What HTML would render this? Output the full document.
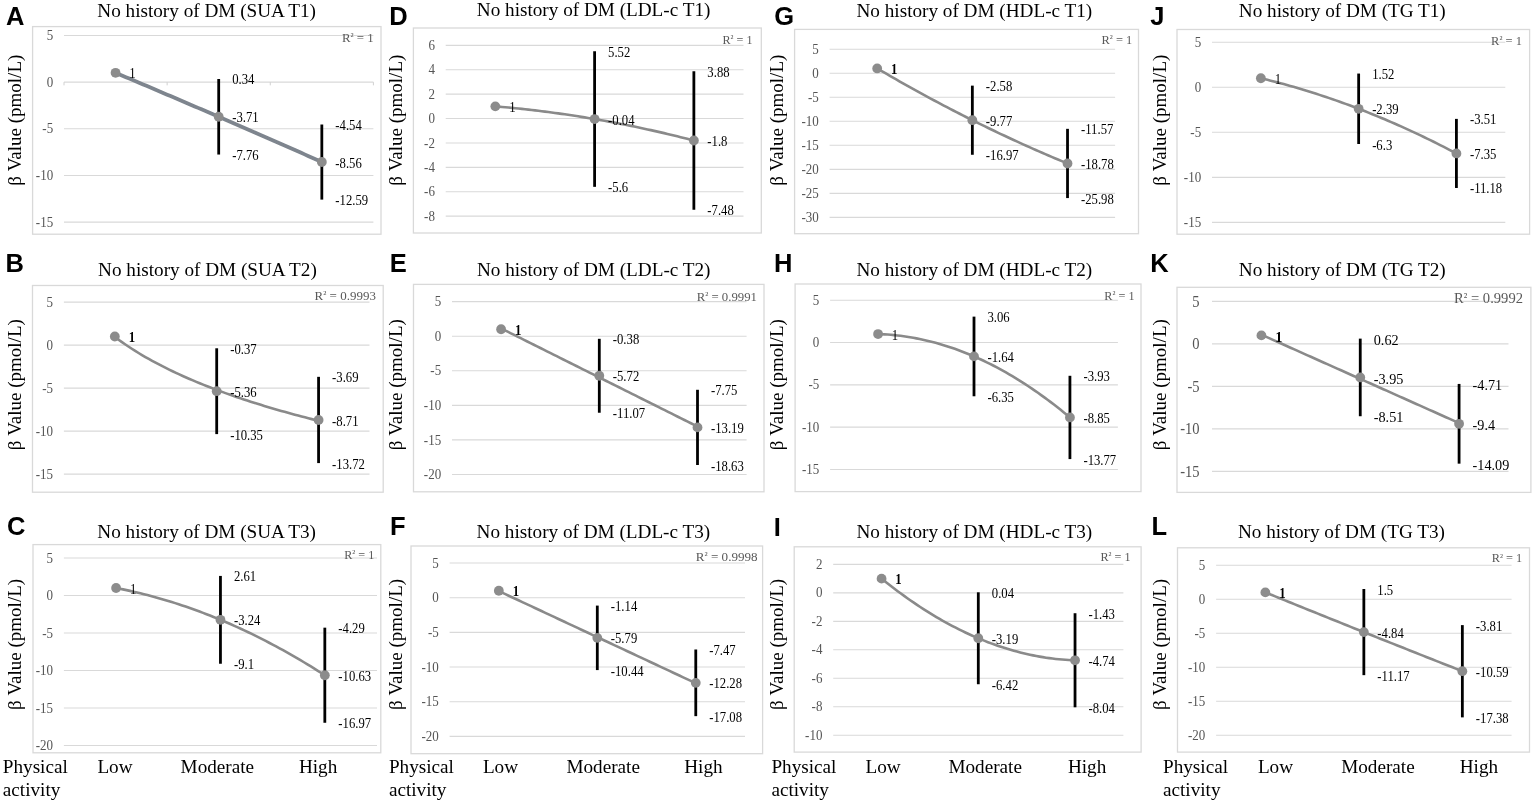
<!DOCTYPE html>
<html><head><meta charset="utf-8"><title>No history of DM - physical activity</title>
<style>html,body{margin:0;padding:0;background:#fff;width:1535px;height:802px;overflow:hidden}svg{display:block}</style>
</head><body>
<svg width="1535" height="802" viewBox="0 0 1535 802">
<rect width="1535" height="802" fill="#fff"/>
<text x="6.00" y="24.90" font-family="'Liberation Sans', Arial, sans-serif" font-size="25.5" font-weight="bold" fill="#000">A</text>
<text x="97.30" y="16.80" font-family="'Liberation Serif', 'Times New Roman', serif" font-size="19.2" fill="#000">No history of DM (SUA T1)</text>
<rect x="32.60" y="26.60" width="348.40" height="207.60" fill="#fff" stroke="#d9d9d9" stroke-width="1.3"/>
<line x1="64.00" y1="35.50" x2="373.40" y2="35.50" stroke="#d9d9d9" stroke-width="1.1"/>
<text transform="translate(53.20,40.10) scale(1,1.15)" font-family="'Liberation Serif', 'Times New Roman', serif" font-size="13.0" fill="#555555" text-anchor="end">5</text>
<line x1="64.00" y1="82.15" x2="373.40" y2="82.15" stroke="#d9d9d9" stroke-width="1.1"/>
<text transform="translate(53.20,86.75) scale(1,1.15)" font-family="'Liberation Serif', 'Times New Roman', serif" font-size="13.0" fill="#555555" text-anchor="end">0</text>
<line x1="64.00" y1="128.80" x2="373.40" y2="128.80" stroke="#d9d9d9" stroke-width="1.1"/>
<text transform="translate(53.20,133.40) scale(1,1.15)" font-family="'Liberation Serif', 'Times New Roman', serif" font-size="13.0" fill="#555555" text-anchor="end">-5</text>
<line x1="64.00" y1="175.45" x2="373.40" y2="175.45" stroke="#d9d9d9" stroke-width="1.1"/>
<text transform="translate(53.20,180.05) scale(1,1.15)" font-family="'Liberation Serif', 'Times New Roman', serif" font-size="13.0" fill="#555555" text-anchor="end">-10</text>
<line x1="64.00" y1="222.10" x2="373.40" y2="222.10" stroke="#d9d9d9" stroke-width="1.1"/>
<text transform="translate(53.20,226.70) scale(1,1.15)" font-family="'Liberation Serif', 'Times New Roman', serif" font-size="13.0" fill="#555555" text-anchor="end">-15</text>
<line x1="64.00" y1="82.15" x2="64.00" y2="85.35" stroke="#d0d0d0" stroke-width="1"/>
<line x1="167.13" y1="82.15" x2="167.13" y2="85.35" stroke="#d0d0d0" stroke-width="1"/>
<line x1="270.27" y1="82.15" x2="270.27" y2="85.35" stroke="#d0d0d0" stroke-width="1"/>
<line x1="373.40" y1="82.15" x2="373.40" y2="85.35" stroke="#d0d0d0" stroke-width="1"/>
<path d="M115.57,72.82 L119.00,74.26 L122.44,75.71 L125.88,77.16 L129.32,78.60 L132.76,80.05 L136.19,81.50 L139.63,82.96 L143.07,84.41 L146.51,85.87 L149.94,87.32 L153.38,88.78 L156.82,90.24 L160.26,91.70 L163.70,93.16 L167.13,94.63 L170.57,96.09 L174.01,97.56 L177.45,99.03 L180.88,100.50 L184.32,101.97 L187.76,103.44 L191.20,104.92 L194.64,106.39 L198.07,107.87 L201.51,109.35 L204.95,110.83 L208.39,112.31 L211.82,113.79 L215.26,115.28 L218.70,116.76 L222.14,118.25 L225.58,119.74 L229.01,121.23 L232.45,122.72 L235.89,124.22 L239.33,125.71 L242.76,127.21 L246.20,128.70 L249.64,130.20 L253.08,131.70 L256.52,133.20 L259.95,134.71 L263.39,136.21 L266.83,137.72 L270.27,139.23 L273.70,140.74 L277.14,142.25 L280.58,143.76 L284.02,145.27 L287.46,146.79 L290.89,148.30 L294.33,149.82 L297.77,151.34 L301.21,152.86 L304.64,154.38 L308.08,155.91 L311.52,157.43 L314.96,158.96 L318.40,160.49 L321.83,162.01" fill="none" stroke="#7e858e" stroke-width="3.8" stroke-linejoin="round"/>
<line x1="218.70" y1="78.98" x2="218.70" y2="154.55" stroke="#000" stroke-width="2.8"/>
<line x1="321.83" y1="124.51" x2="321.83" y2="199.61" stroke="#000" stroke-width="2.8"/>
<circle cx="115.57" cy="72.82" r="4.9" fill="#8c8c8c"/>
<circle cx="218.70" cy="116.76" r="4.9" fill="#8c8c8c"/>
<circle cx="321.83" cy="162.01" r="4.9" fill="#8c8c8c"/>
<text transform="translate(129.37,78.32) scale(1,1.09)" font-family="'Liberation Serif', 'Times New Roman', serif" font-size="12.7" fill="#000">1</text>
<text transform="translate(232.20,84.48) scale(1,1.09)" font-family="'Liberation Serif', 'Times New Roman', serif" font-size="12.7" fill="#000">0.34</text>
<text transform="translate(232.20,122.26) scale(1,1.09)" font-family="'Liberation Serif', 'Times New Roman', serif" font-size="12.7" fill="#000">-3.71</text>
<text transform="translate(232.20,160.05) scale(1,1.09)" font-family="'Liberation Serif', 'Times New Roman', serif" font-size="12.7" fill="#000">-7.76</text>
<text transform="translate(335.33,130.01) scale(1,1.09)" font-family="'Liberation Serif', 'Times New Roman', serif" font-size="12.7" fill="#000">-4.54</text>
<text transform="translate(335.33,167.51) scale(1,1.09)" font-family="'Liberation Serif', 'Times New Roman', serif" font-size="12.7" fill="#000">-8.56</text>
<text transform="translate(335.33,205.11) scale(1,1.09)" font-family="'Liberation Serif', 'Times New Roman', serif" font-size="12.7" fill="#000">-12.59</text>
<text transform="translate(341.90,41.70) scale(1,1.08)" font-family="'Liberation Serif', 'Times New Roman', serif" font-size="12.5" fill="#595959" textLength="31.90" lengthAdjust="spacingAndGlyphs">R<tspan font-size="0.8em" dy="-1.6">²</tspan><tspan dy="1.6"> = 1</tspan></text>
<text transform="translate(20.80,120.20) rotate(-90)" x="0" y="0" font-family="'Liberation Serif', 'Times New Roman', serif" font-size="19" fill="#000" text-anchor="middle">β Value (pmol/L)</text>
<text x="5.40" y="271.50" font-family="'Liberation Sans', Arial, sans-serif" font-size="25.5" font-weight="bold" fill="#000">B</text>
<text x="98.10" y="275.80" font-family="'Liberation Serif', 'Times New Roman', serif" font-size="19.2" fill="#000">No history of DM (SUA T2)</text>
<rect x="32.50" y="285.50" width="350.70" height="206.70" fill="#fff" stroke="#d9d9d9" stroke-width="1.3"/>
<line x1="63.90" y1="302.10" x2="369.50" y2="302.10" stroke="#d9d9d9" stroke-width="1.1"/>
<text transform="translate(53.10,306.70) scale(1,1.15)" font-family="'Liberation Serif', 'Times New Roman', serif" font-size="13.0" fill="#555555" text-anchor="end">5</text>
<line x1="63.90" y1="345.10" x2="369.50" y2="345.10" stroke="#d9d9d9" stroke-width="1.1"/>
<text transform="translate(53.10,349.70) scale(1,1.15)" font-family="'Liberation Serif', 'Times New Roman', serif" font-size="13.0" fill="#555555" text-anchor="end">0</text>
<line x1="63.90" y1="388.10" x2="369.50" y2="388.10" stroke="#d9d9d9" stroke-width="1.1"/>
<text transform="translate(53.10,392.70) scale(1,1.15)" font-family="'Liberation Serif', 'Times New Roman', serif" font-size="13.0" fill="#555555" text-anchor="end">-5</text>
<line x1="63.90" y1="431.10" x2="369.50" y2="431.10" stroke="#d9d9d9" stroke-width="1.1"/>
<text transform="translate(53.10,435.70) scale(1,1.15)" font-family="'Liberation Serif', 'Times New Roman', serif" font-size="13.0" fill="#555555" text-anchor="end">-10</text>
<line x1="63.90" y1="474.10" x2="369.50" y2="474.10" stroke="#d9d9d9" stroke-width="1.1"/>
<text transform="translate(53.10,478.70) scale(1,1.15)" font-family="'Liberation Serif', 'Times New Roman', serif" font-size="13.0" fill="#555555" text-anchor="end">-15</text>
<path d="M114.83,336.98 L118.23,339.49 L121.62,341.91 L125.02,344.26 L128.42,346.54 L131.81,348.75 L135.21,350.90 L138.60,352.99 L142.00,355.03 L145.39,357.01 L148.79,358.94 L152.18,360.82 L155.58,362.66 L158.98,364.46 L162.37,366.21 L165.77,367.93 L169.16,369.61 L172.56,371.25 L175.95,372.86 L179.35,374.43 L182.74,375.97 L186.14,377.48 L189.54,378.96 L192.93,380.42 L196.33,381.84 L199.72,383.25 L203.12,384.62 L206.51,385.97 L209.91,387.30 L213.30,388.60 L216.70,389.89 L220.10,391.15 L223.49,392.39 L226.89,393.61 L230.28,394.81 L233.68,396.00 L237.07,397.16 L240.47,398.31 L243.86,399.44 L247.26,400.55 L250.66,401.65 L254.05,402.73 L257.45,403.80 L260.84,404.85 L264.24,405.89 L267.63,406.92 L271.03,407.93 L274.42,408.93 L277.82,409.91 L281.22,410.88 L284.61,411.84 L288.01,412.79 L291.40,413.73 L294.80,414.65 L298.19,415.57 L301.59,416.47 L304.98,417.36 L308.38,418.24 L311.78,419.12 L315.17,419.98 L318.57,420.83" fill="none" stroke="#8a8a8a" stroke-width="2.6" stroke-linejoin="round"/>
<line x1="216.70" y1="348.28" x2="216.70" y2="434.11" stroke="#000" stroke-width="2.8"/>
<line x1="318.57" y1="376.83" x2="318.57" y2="463.09" stroke="#000" stroke-width="2.8"/>
<circle cx="114.83" cy="336.50" r="4.9" fill="#8c8c8c"/>
<circle cx="216.70" cy="391.20" r="4.9" fill="#8c8c8c"/>
<circle cx="318.57" cy="420.01" r="4.9" fill="#8c8c8c"/>
<text transform="translate(128.63,342.00) scale(1,1.09)" font-family="'Liberation Serif', 'Times New Roman', serif" font-size="12.7" font-weight="bold" fill="#000">1</text>
<text transform="translate(230.20,353.78) scale(1,1.09)" font-family="'Liberation Serif', 'Times New Roman', serif" font-size="12.7" fill="#000">-0.37</text>
<text transform="translate(230.20,396.70) scale(1,1.09)" font-family="'Liberation Serif', 'Times New Roman', serif" font-size="12.7" fill="#000">-5.36</text>
<text transform="translate(230.20,439.61) scale(1,1.09)" font-family="'Liberation Serif', 'Times New Roman', serif" font-size="12.7" fill="#000">-10.35</text>
<text transform="translate(332.07,382.33) scale(1,1.09)" font-family="'Liberation Serif', 'Times New Roman', serif" font-size="12.7" fill="#000">-3.69</text>
<text transform="translate(332.07,425.51) scale(1,1.09)" font-family="'Liberation Serif', 'Times New Roman', serif" font-size="12.7" fill="#000">-8.71</text>
<text transform="translate(332.07,468.59) scale(1,1.09)" font-family="'Liberation Serif', 'Times New Roman', serif" font-size="12.7" fill="#000">-13.72</text>
<text transform="translate(314.60,300.00) scale(1,1.08)" font-family="'Liberation Serif', 'Times New Roman', serif" font-size="12.5" fill="#595959" textLength="61.30" lengthAdjust="spacingAndGlyphs">R<tspan font-size="0.8em" dy="-1.6">²</tspan><tspan dy="1.6"> = 0.9993</tspan></text>
<text transform="translate(20.80,384.70) rotate(-90)" x="0" y="0" font-family="'Liberation Serif', 'Times New Roman', serif" font-size="19" fill="#000" text-anchor="middle">β Value (pmol/L)</text>
<text x="7.00" y="535.40" font-family="'Liberation Sans', Arial, sans-serif" font-size="25.5" font-weight="bold" fill="#000">C</text>
<text x="97.30" y="538.00" font-family="'Liberation Serif', 'Times New Roman', serif" font-size="19.2" fill="#000">No history of DM (SUA T3)</text>
<rect x="33.00" y="544.60" width="347.80" height="208.20" fill="#fff" stroke="#d9d9d9" stroke-width="1.3"/>
<line x1="63.90" y1="558.00" x2="377.00" y2="558.00" stroke="#d9d9d9" stroke-width="1.1"/>
<text transform="translate(53.10,562.60) scale(1,1.15)" font-family="'Liberation Serif', 'Times New Roman', serif" font-size="13.0" fill="#555555" text-anchor="end">5</text>
<line x1="63.90" y1="595.50" x2="377.00" y2="595.50" stroke="#d9d9d9" stroke-width="1.1"/>
<text transform="translate(53.10,600.10) scale(1,1.15)" font-family="'Liberation Serif', 'Times New Roman', serif" font-size="13.0" fill="#555555" text-anchor="end">0</text>
<line x1="63.90" y1="633.00" x2="377.00" y2="633.00" stroke="#d9d9d9" stroke-width="1.1"/>
<text transform="translate(53.10,637.60) scale(1,1.15)" font-family="'Liberation Serif', 'Times New Roman', serif" font-size="13.0" fill="#555555" text-anchor="end">-5</text>
<line x1="63.90" y1="670.50" x2="377.00" y2="670.50" stroke="#d9d9d9" stroke-width="1.1"/>
<text transform="translate(53.10,675.10) scale(1,1.15)" font-family="'Liberation Serif', 'Times New Roman', serif" font-size="13.0" fill="#555555" text-anchor="end">-10</text>
<line x1="63.90" y1="708.00" x2="377.00" y2="708.00" stroke="#d9d9d9" stroke-width="1.1"/>
<text transform="translate(53.10,712.60) scale(1,1.15)" font-family="'Liberation Serif', 'Times New Roman', serif" font-size="13.0" fill="#555555" text-anchor="end">-15</text>
<line x1="63.90" y1="745.50" x2="377.00" y2="745.50" stroke="#d9d9d9" stroke-width="1.1"/>
<text transform="translate(53.10,750.10) scale(1,1.15)" font-family="'Liberation Serif', 'Times New Roman', serif" font-size="13.0" fill="#555555" text-anchor="end">-20</text>
<path d="M116.08,588.00 L119.56,588.68 L123.04,589.38 L126.52,590.12 L130.00,590.88 L133.48,591.66 L136.96,592.47 L140.44,593.31 L143.91,594.17 L147.39,595.06 L150.87,595.98 L154.35,596.92 L157.83,597.88 L161.31,598.88 L164.79,599.90 L168.27,600.95 L171.75,602.02 L175.22,603.12 L178.70,604.25 L182.18,605.40 L185.66,606.58 L189.14,607.78 L192.62,609.01 L196.10,610.27 L199.58,611.55 L203.06,612.86 L206.53,614.20 L210.01,615.56 L213.49,616.95 L216.97,618.36 L220.45,619.80 L223.93,621.27 L227.41,622.76 L230.89,624.28 L234.37,625.83 L237.84,627.40 L241.32,629.00 L244.80,630.62 L248.28,632.27 L251.76,633.95 L255.24,635.65 L258.72,637.38 L262.20,639.13 L265.68,640.92 L269.15,642.73 L272.63,644.56 L276.11,646.42 L279.59,648.31 L283.07,650.22 L286.55,652.16 L290.03,654.12 L293.51,656.12 L296.99,658.13 L300.46,660.18 L303.94,662.25 L307.42,664.35 L310.90,666.47 L314.38,668.62 L317.86,670.80 L321.34,673.00 L324.82,675.23" fill="none" stroke="#8a8a8a" stroke-width="2.6" stroke-linejoin="round"/>
<line x1="220.45" y1="575.92" x2="220.45" y2="663.75" stroke="#000" stroke-width="2.8"/>
<line x1="324.82" y1="627.67" x2="324.82" y2="722.77" stroke="#000" stroke-width="2.8"/>
<circle cx="116.08" cy="588.00" r="4.9" fill="#8c8c8c"/>
<circle cx="220.45" cy="619.80" r="4.9" fill="#8c8c8c"/>
<circle cx="324.82" cy="675.23" r="4.9" fill="#8c8c8c"/>
<text transform="translate(129.88,593.50) scale(1,1.09)" font-family="'Liberation Serif', 'Times New Roman', serif" font-size="12.7" fill="#000">1</text>
<text transform="translate(233.95,581.42) scale(1,1.09)" font-family="'Liberation Serif', 'Times New Roman', serif" font-size="12.7" fill="#000">2.61</text>
<text transform="translate(233.95,625.30) scale(1,1.09)" font-family="'Liberation Serif', 'Times New Roman', serif" font-size="12.7" fill="#000">-3.24</text>
<text transform="translate(233.95,669.25) scale(1,1.09)" font-family="'Liberation Serif', 'Times New Roman', serif" font-size="12.7" fill="#000">-9.1</text>
<text transform="translate(338.32,633.17) scale(1,1.09)" font-family="'Liberation Serif', 'Times New Roman', serif" font-size="12.7" fill="#000">-4.29</text>
<text transform="translate(338.32,680.73) scale(1,1.09)" font-family="'Liberation Serif', 'Times New Roman', serif" font-size="12.7" fill="#000">-10.63</text>
<text transform="translate(338.32,728.27) scale(1,1.09)" font-family="'Liberation Serif', 'Times New Roman', serif" font-size="12.7" fill="#000">-16.97</text>
<text transform="translate(344.20,558.70) scale(1,1.08)" font-family="'Liberation Serif', 'Times New Roman', serif" font-size="12.5" fill="#595959" textLength="30.10" lengthAdjust="spacingAndGlyphs">R<tspan font-size="0.8em" dy="-1.6">²</tspan><tspan dy="1.6"> = 1</tspan></text>
<text transform="translate(20.80,644.40) rotate(-90)" x="0" y="0" font-family="'Liberation Serif', 'Times New Roman', serif" font-size="19" fill="#000" text-anchor="middle">β Value (pmol/L)</text>
<text x="389.30" y="24.80" font-family="'Liberation Sans', Arial, sans-serif" font-size="25.5" font-weight="bold" fill="#000">D</text>
<text x="476.80" y="16.40" font-family="'Liberation Serif', 'Times New Roman', serif" font-size="19.2" fill="#000">No history of DM (LDL-c T1)</text>
<rect x="413.40" y="28.00" width="347.90" height="205.00" fill="#fff" stroke="#d9d9d9" stroke-width="1.3"/>
<line x1="445.70" y1="45.40" x2="743.50" y2="45.40" stroke="#d9d9d9" stroke-width="1.1"/>
<text transform="translate(434.90,50.00) scale(1,1.15)" font-family="'Liberation Serif', 'Times New Roman', serif" font-size="13.0" fill="#555555" text-anchor="end">6</text>
<line x1="445.70" y1="69.79" x2="743.50" y2="69.79" stroke="#d9d9d9" stroke-width="1.1"/>
<text transform="translate(434.90,74.39) scale(1,1.15)" font-family="'Liberation Serif', 'Times New Roman', serif" font-size="13.0" fill="#555555" text-anchor="end">4</text>
<line x1="445.70" y1="94.17" x2="743.50" y2="94.17" stroke="#d9d9d9" stroke-width="1.1"/>
<text transform="translate(434.90,98.77) scale(1,1.15)" font-family="'Liberation Serif', 'Times New Roman', serif" font-size="13.0" fill="#555555" text-anchor="end">2</text>
<line x1="445.70" y1="118.56" x2="743.50" y2="118.56" stroke="#d9d9d9" stroke-width="1.1"/>
<text transform="translate(434.90,123.16) scale(1,1.15)" font-family="'Liberation Serif', 'Times New Roman', serif" font-size="13.0" fill="#555555" text-anchor="end">0</text>
<line x1="445.70" y1="142.94" x2="743.50" y2="142.94" stroke="#d9d9d9" stroke-width="1.1"/>
<text transform="translate(434.90,147.54) scale(1,1.15)" font-family="'Liberation Serif', 'Times New Roman', serif" font-size="13.0" fill="#555555" text-anchor="end">-2</text>
<line x1="445.70" y1="167.33" x2="743.50" y2="167.33" stroke="#d9d9d9" stroke-width="1.1"/>
<text transform="translate(434.90,171.93) scale(1,1.15)" font-family="'Liberation Serif', 'Times New Roman', serif" font-size="13.0" fill="#555555" text-anchor="end">-4</text>
<line x1="445.70" y1="191.71" x2="743.50" y2="191.71" stroke="#d9d9d9" stroke-width="1.1"/>
<text transform="translate(434.90,196.31) scale(1,1.15)" font-family="'Liberation Serif', 'Times New Roman', serif" font-size="13.0" fill="#555555" text-anchor="end">-6</text>
<line x1="445.70" y1="216.10" x2="743.50" y2="216.10" stroke="#d9d9d9" stroke-width="1.1"/>
<text transform="translate(434.90,220.70) scale(1,1.15)" font-family="'Liberation Serif', 'Times New Roman', serif" font-size="13.0" fill="#555555" text-anchor="end">-8</text>
<path d="M495.33,106.36 L498.64,106.65 L501.95,106.94 L505.26,107.24 L508.57,107.55 L511.88,107.87 L515.19,108.20 L518.50,108.54 L521.80,108.89 L525.11,109.25 L528.42,109.62 L531.73,109.99 L535.04,110.38 L538.35,110.78 L541.66,111.19 L544.97,111.61 L548.28,112.03 L551.58,112.47 L554.89,112.92 L558.20,113.38 L561.51,113.84 L564.82,114.32 L568.13,114.80 L571.44,115.30 L574.75,115.81 L578.06,116.32 L581.36,116.85 L584.67,117.38 L587.98,117.93 L591.29,118.48 L594.60,119.04 L597.91,119.62 L601.22,120.20 L604.53,120.80 L607.84,121.40 L611.14,122.01 L614.45,122.63 L617.76,123.27 L621.07,123.91 L624.38,124.56 L627.69,125.22 L631.00,125.89 L634.31,126.58 L637.62,127.27 L640.92,127.97 L644.23,128.68 L647.54,129.40 L650.85,130.13 L654.16,130.87 L657.47,131.62 L660.78,132.38 L664.09,133.14 L667.40,133.92 L670.70,134.71 L674.01,135.51 L677.32,136.32 L680.63,137.14 L683.94,137.96 L687.25,138.80 L690.56,139.65 L693.87,140.50" fill="none" stroke="#8a8a8a" stroke-width="2.6" stroke-linejoin="round"/>
<line x1="594.60" y1="51.25" x2="594.60" y2="186.84" stroke="#000" stroke-width="2.8"/>
<line x1="693.87" y1="71.25" x2="693.87" y2="209.76" stroke="#000" stroke-width="2.8"/>
<circle cx="495.33" cy="106.36" r="4.9" fill="#8c8c8c"/>
<circle cx="594.60" cy="119.04" r="4.9" fill="#8c8c8c"/>
<circle cx="693.87" cy="140.50" r="4.9" fill="#8c8c8c"/>
<text transform="translate(509.13,111.86) scale(1,1.09)" font-family="'Liberation Serif', 'Times New Roman', serif" font-size="12.7" fill="#000">1</text>
<text transform="translate(608.10,56.75) scale(1,1.09)" font-family="'Liberation Serif', 'Times New Roman', serif" font-size="12.7" fill="#000">5.52</text>
<text transform="translate(608.10,124.54) scale(1,1.09)" font-family="'Liberation Serif', 'Times New Roman', serif" font-size="12.7" fill="#000">-0.04</text>
<text transform="translate(608.10,192.34) scale(1,1.09)" font-family="'Liberation Serif', 'Times New Roman', serif" font-size="12.7" fill="#000">-5.6</text>
<text transform="translate(707.37,76.75) scale(1,1.09)" font-family="'Liberation Serif', 'Times New Roman', serif" font-size="12.7" fill="#000">3.88</text>
<text transform="translate(707.37,146.00) scale(1,1.09)" font-family="'Liberation Serif', 'Times New Roman', serif" font-size="12.7" fill="#000">-1.8</text>
<text transform="translate(707.37,215.26) scale(1,1.09)" font-family="'Liberation Serif', 'Times New Roman', serif" font-size="12.7" fill="#000">-7.48</text>
<text transform="translate(722.50,44.00) scale(1,1.08)" font-family="'Liberation Serif', 'Times New Roman', serif" font-size="12.5" fill="#595959" textLength="30.00" lengthAdjust="spacingAndGlyphs">R<tspan font-size="0.8em" dy="-1.6">²</tspan><tspan dy="1.6"> = 1</tspan></text>
<text transform="translate(401.50,120.20) rotate(-90)" x="0" y="0" font-family="'Liberation Serif', 'Times New Roman', serif" font-size="19" fill="#000" text-anchor="middle">β Value (pmol/L)</text>
<text x="389.70" y="271.70" font-family="'Liberation Sans', Arial, sans-serif" font-size="25.5" font-weight="bold" fill="#000">E</text>
<text x="476.90" y="275.80" font-family="'Liberation Serif', 'Times New Roman', serif" font-size="19.2" fill="#000">No history of DM (LDL-c T2)</text>
<rect x="413.50" y="284.40" width="350.50" height="207.40" fill="#fff" stroke="#d9d9d9" stroke-width="1.3"/>
<line x1="452.00" y1="301.60" x2="746.60" y2="301.60" stroke="#d9d9d9" stroke-width="1.1"/>
<text transform="translate(441.20,306.20) scale(1,1.15)" font-family="'Liberation Serif', 'Times New Roman', serif" font-size="13.0" fill="#555555" text-anchor="end">5</text>
<line x1="452.00" y1="336.18" x2="746.60" y2="336.18" stroke="#d9d9d9" stroke-width="1.1"/>
<text transform="translate(441.20,340.78) scale(1,1.15)" font-family="'Liberation Serif', 'Times New Roman', serif" font-size="13.0" fill="#555555" text-anchor="end">0</text>
<line x1="452.00" y1="370.76" x2="746.60" y2="370.76" stroke="#d9d9d9" stroke-width="1.1"/>
<text transform="translate(441.20,375.36) scale(1,1.15)" font-family="'Liberation Serif', 'Times New Roman', serif" font-size="13.0" fill="#555555" text-anchor="end">-5</text>
<line x1="452.00" y1="405.34" x2="746.60" y2="405.34" stroke="#d9d9d9" stroke-width="1.1"/>
<text transform="translate(441.20,409.94) scale(1,1.15)" font-family="'Liberation Serif', 'Times New Roman', serif" font-size="13.0" fill="#555555" text-anchor="end">-10</text>
<line x1="452.00" y1="439.92" x2="746.60" y2="439.92" stroke="#d9d9d9" stroke-width="1.1"/>
<text transform="translate(441.20,444.52) scale(1,1.15)" font-family="'Liberation Serif', 'Times New Roman', serif" font-size="13.0" fill="#555555" text-anchor="end">-15</text>
<line x1="452.00" y1="474.50" x2="746.60" y2="474.50" stroke="#d9d9d9" stroke-width="1.1"/>
<text transform="translate(441.20,479.10) scale(1,1.15)" font-family="'Liberation Serif', 'Times New Roman', serif" font-size="13.0" fill="#555555" text-anchor="end">-20</text>
<path d="M501.10,328.40 L504.37,330.04 L507.65,331.67 L510.92,333.31 L514.19,334.94 L517.47,336.58 L520.74,338.21 L524.01,339.85 L527.29,341.48 L530.56,343.12 L533.83,344.76 L537.11,346.39 L540.38,348.03 L543.65,349.66 L546.93,351.30 L550.20,352.93 L553.47,354.57 L556.75,356.21 L560.02,357.84 L563.29,359.48 L566.57,361.11 L569.84,362.75 L573.11,364.38 L576.39,366.02 L579.66,367.65 L582.93,369.29 L586.21,370.93 L589.48,372.56 L592.75,374.20 L596.03,375.83 L599.30,377.47 L602.57,379.10 L605.85,380.74 L609.12,382.38 L612.39,384.01 L615.67,385.65 L618.94,387.28 L622.21,388.92 L625.49,390.55 L628.76,392.19 L632.03,393.82 L635.31,395.46 L638.58,397.10 L641.85,398.73 L645.13,400.37 L648.40,402.00 L651.67,403.64 L654.95,405.27 L658.22,406.91 L661.49,408.55 L664.77,410.18 L668.04,411.82 L671.31,413.45 L674.59,415.09 L677.86,416.72 L681.13,418.36 L684.41,420.00 L687.68,421.63 L690.95,423.27 L694.23,424.90 L697.50,426.54" fill="none" stroke="#8a8a8a" stroke-width="2.6" stroke-linejoin="round"/>
<line x1="599.30" y1="338.81" x2="599.30" y2="412.74" stroke="#000" stroke-width="2.8"/>
<line x1="697.50" y1="389.78" x2="697.50" y2="465.03" stroke="#000" stroke-width="2.8"/>
<circle cx="501.10" cy="329.26" r="4.9" fill="#8c8c8c"/>
<circle cx="599.30" cy="375.74" r="4.9" fill="#8c8c8c"/>
<circle cx="697.50" cy="427.40" r="4.9" fill="#8c8c8c"/>
<text transform="translate(514.90,334.76) scale(1,1.09)" font-family="'Liberation Serif', 'Times New Roman', serif" font-size="12.7" font-weight="bold" fill="#000">1</text>
<text transform="translate(612.80,344.31) scale(1,1.09)" font-family="'Liberation Serif', 'Times New Roman', serif" font-size="12.7" fill="#000">-0.38</text>
<text transform="translate(612.80,381.24) scale(1,1.09)" font-family="'Liberation Serif', 'Times New Roman', serif" font-size="12.7" fill="#000">-5.72</text>
<text transform="translate(612.80,418.24) scale(1,1.09)" font-family="'Liberation Serif', 'Times New Roman', serif" font-size="12.7" fill="#000">-11.07</text>
<text transform="translate(711.00,395.28) scale(1,1.09)" font-family="'Liberation Serif', 'Times New Roman', serif" font-size="12.7" fill="#000">-7.75</text>
<text transform="translate(711.00,432.90) scale(1,1.09)" font-family="'Liberation Serif', 'Times New Roman', serif" font-size="12.7" fill="#000">-13.19</text>
<text transform="translate(711.00,470.53) scale(1,1.09)" font-family="'Liberation Serif', 'Times New Roman', serif" font-size="12.7" fill="#000">-18.63</text>
<text transform="translate(696.70,300.70) scale(1,1.08)" font-family="'Liberation Serif', 'Times New Roman', serif" font-size="12.5" fill="#595959" textLength="60.30" lengthAdjust="spacingAndGlyphs">R<tspan font-size="0.8em" dy="-1.6">²</tspan><tspan dy="1.6"> = 0.9991</tspan></text>
<text transform="translate(401.50,384.70) rotate(-90)" x="0" y="0" font-family="'Liberation Serif', 'Times New Roman', serif" font-size="19" fill="#000" text-anchor="middle">β Value (pmol/L)</text>
<text x="390.00" y="535.40" font-family="'Liberation Sans', Arial, sans-serif" font-size="25.5" font-weight="bold" fill="#000">F</text>
<text x="476.60" y="538.00" font-family="'Liberation Serif', 'Times New Roman', serif" font-size="19.2" fill="#000">No history of DM (LDL-c T3)</text>
<rect x="411.00" y="546.00" width="351.60" height="207.70" fill="#fff" stroke="#d9d9d9" stroke-width="1.3"/>
<line x1="449.60" y1="563.00" x2="745.00" y2="563.00" stroke="#d9d9d9" stroke-width="1.1"/>
<text transform="translate(438.80,567.60) scale(1,1.15)" font-family="'Liberation Serif', 'Times New Roman', serif" font-size="13.0" fill="#555555" text-anchor="end">5</text>
<line x1="449.60" y1="597.68" x2="745.00" y2="597.68" stroke="#d9d9d9" stroke-width="1.1"/>
<text transform="translate(438.80,602.28) scale(1,1.15)" font-family="'Liberation Serif', 'Times New Roman', serif" font-size="13.0" fill="#555555" text-anchor="end">0</text>
<line x1="449.60" y1="632.36" x2="745.00" y2="632.36" stroke="#d9d9d9" stroke-width="1.1"/>
<text transform="translate(438.80,636.96) scale(1,1.15)" font-family="'Liberation Serif', 'Times New Roman', serif" font-size="13.0" fill="#555555" text-anchor="end">-5</text>
<line x1="449.60" y1="667.04" x2="745.00" y2="667.04" stroke="#d9d9d9" stroke-width="1.1"/>
<text transform="translate(438.80,671.64) scale(1,1.15)" font-family="'Liberation Serif', 'Times New Roman', serif" font-size="13.0" fill="#555555" text-anchor="end">-10</text>
<line x1="449.60" y1="701.72" x2="745.00" y2="701.72" stroke="#d9d9d9" stroke-width="1.1"/>
<text transform="translate(438.80,706.32) scale(1,1.15)" font-family="'Liberation Serif', 'Times New Roman', serif" font-size="13.0" fill="#555555" text-anchor="end">-15</text>
<line x1="449.60" y1="736.40" x2="745.00" y2="736.40" stroke="#d9d9d9" stroke-width="1.1"/>
<text transform="translate(438.80,741.00) scale(1,1.15)" font-family="'Liberation Serif', 'Times New Roman', serif" font-size="13.0" fill="#555555" text-anchor="end">-20</text>
<path d="M498.83,591.09 L502.12,592.63 L505.40,594.16 L508.68,595.70 L511.96,597.23 L515.24,598.77 L518.53,600.30 L521.81,601.84 L525.09,603.37 L528.37,604.91 L531.66,606.44 L534.94,607.98 L538.22,609.51 L541.50,611.05 L544.78,612.58 L548.07,614.12 L551.35,615.65 L554.63,617.19 L557.91,618.72 L561.20,620.26 L564.48,621.79 L567.76,623.33 L571.04,624.86 L574.32,626.40 L577.61,627.93 L580.89,629.47 L584.17,631.01 L587.45,632.54 L590.74,634.08 L594.02,635.61 L597.30,637.15 L600.58,638.68 L603.86,640.22 L607.15,641.75 L610.43,643.29 L613.71,644.82 L616.99,646.36 L620.28,647.89 L623.56,649.43 L626.84,650.96 L630.12,652.50 L633.40,654.03 L636.69,655.57 L639.97,657.10 L643.25,658.64 L646.53,660.17 L649.82,661.71 L653.10,663.24 L656.38,664.78 L659.66,666.31 L662.94,667.85 L666.23,669.38 L669.51,670.92 L672.79,672.45 L676.07,673.99 L679.36,675.53 L682.64,677.06 L685.92,678.60 L689.20,680.13 L692.48,681.67 L695.77,683.20" fill="none" stroke="#8a8a8a" stroke-width="2.6" stroke-linejoin="round"/>
<line x1="597.30" y1="605.59" x2="597.30" y2="670.09" stroke="#000" stroke-width="2.8"/>
<line x1="695.77" y1="649.49" x2="695.77" y2="716.15" stroke="#000" stroke-width="2.8"/>
<circle cx="498.83" cy="590.74" r="4.9" fill="#8c8c8c"/>
<circle cx="597.30" cy="637.84" r="4.9" fill="#8c8c8c"/>
<circle cx="695.77" cy="682.85" r="4.9" fill="#8c8c8c"/>
<text transform="translate(512.63,596.24) scale(1,1.09)" font-family="'Liberation Serif', 'Times New Roman', serif" font-size="12.7" font-weight="bold" fill="#000">1</text>
<text transform="translate(610.80,611.09) scale(1,1.09)" font-family="'Liberation Serif', 'Times New Roman', serif" font-size="12.7" fill="#000">-1.14</text>
<text transform="translate(610.80,643.34) scale(1,1.09)" font-family="'Liberation Serif', 'Times New Roman', serif" font-size="12.7" fill="#000">-5.79</text>
<text transform="translate(610.80,675.59) scale(1,1.09)" font-family="'Liberation Serif', 'Times New Roman', serif" font-size="12.7" fill="#000">-10.44</text>
<text transform="translate(709.27,654.99) scale(1,1.09)" font-family="'Liberation Serif', 'Times New Roman', serif" font-size="12.7" fill="#000">-7.47</text>
<text transform="translate(709.27,688.35) scale(1,1.09)" font-family="'Liberation Serif', 'Times New Roman', serif" font-size="12.7" fill="#000">-12.28</text>
<text transform="translate(709.27,721.65) scale(1,1.09)" font-family="'Liberation Serif', 'Times New Roman', serif" font-size="12.7" fill="#000">-17.08</text>
<text transform="translate(695.80,560.50) scale(1,1.08)" font-family="'Liberation Serif', 'Times New Roman', serif" font-size="12.5" fill="#595959" textLength="61.80" lengthAdjust="spacingAndGlyphs">R<tspan font-size="0.8em" dy="-1.6">²</tspan><tspan dy="1.6"> = 0.9998</tspan></text>
<text transform="translate(401.50,644.40) rotate(-90)" x="0" y="0" font-family="'Liberation Serif', 'Times New Roman', serif" font-size="19" fill="#000" text-anchor="middle">β Value (pmol/L)</text>
<text x="774.20" y="24.90" font-family="'Liberation Sans', Arial, sans-serif" font-size="25.5" font-weight="bold" fill="#000">G</text>
<text x="856.50" y="16.50" font-family="'Liberation Serif', 'Times New Roman', serif" font-size="19.2" fill="#000">No history of DM (HDL-c T1)</text>
<rect x="794.60" y="29.40" width="343.90" height="204.30" fill="#fff" stroke="#d9d9d9" stroke-width="1.3"/>
<line x1="829.60" y1="49.20" x2="1115.10" y2="49.20" stroke="#d9d9d9" stroke-width="1.1"/>
<text transform="translate(818.80,53.80) scale(1,1.15)" font-family="'Liberation Serif', 'Times New Roman', serif" font-size="13.0" fill="#555555" text-anchor="end">5</text>
<line x1="829.60" y1="73.23" x2="1115.10" y2="73.23" stroke="#d9d9d9" stroke-width="1.1"/>
<text transform="translate(818.80,77.83) scale(1,1.15)" font-family="'Liberation Serif', 'Times New Roman', serif" font-size="13.0" fill="#555555" text-anchor="end">0</text>
<line x1="829.60" y1="97.26" x2="1115.10" y2="97.26" stroke="#d9d9d9" stroke-width="1.1"/>
<text transform="translate(818.80,101.86) scale(1,1.15)" font-family="'Liberation Serif', 'Times New Roman', serif" font-size="13.0" fill="#555555" text-anchor="end">-5</text>
<line x1="829.60" y1="121.29" x2="1115.10" y2="121.29" stroke="#d9d9d9" stroke-width="1.1"/>
<text transform="translate(818.80,125.89) scale(1,1.15)" font-family="'Liberation Serif', 'Times New Roman', serif" font-size="13.0" fill="#555555" text-anchor="end">-10</text>
<line x1="829.60" y1="145.31" x2="1115.10" y2="145.31" stroke="#d9d9d9" stroke-width="1.1"/>
<text transform="translate(818.80,149.91) scale(1,1.15)" font-family="'Liberation Serif', 'Times New Roman', serif" font-size="13.0" fill="#555555" text-anchor="end">-15</text>
<line x1="829.60" y1="169.34" x2="1115.10" y2="169.34" stroke="#d9d9d9" stroke-width="1.1"/>
<text transform="translate(818.80,173.94) scale(1,1.15)" font-family="'Liberation Serif', 'Times New Roman', serif" font-size="13.0" fill="#555555" text-anchor="end">-20</text>
<line x1="829.60" y1="193.37" x2="1115.10" y2="193.37" stroke="#d9d9d9" stroke-width="1.1"/>
<text transform="translate(818.80,197.97) scale(1,1.15)" font-family="'Liberation Serif', 'Times New Roman', serif" font-size="13.0" fill="#555555" text-anchor="end">-25</text>
<line x1="829.60" y1="217.40" x2="1115.10" y2="217.40" stroke="#d9d9d9" stroke-width="1.1"/>
<text transform="translate(818.80,222.00) scale(1,1.15)" font-family="'Liberation Serif', 'Times New Roman', serif" font-size="13.0" fill="#555555" text-anchor="end">-30</text>
<path d="M877.18,68.42 L880.36,70.28 L883.53,72.14 L886.70,73.98 L889.87,75.81 L893.04,77.64 L896.22,79.45 L899.39,81.26 L902.56,83.05 L905.73,84.84 L908.91,86.62 L912.08,88.38 L915.25,90.14 L918.42,91.89 L921.59,93.63 L924.77,95.36 L927.94,97.08 L931.11,98.79 L934.28,100.49 L937.46,102.18 L940.63,103.87 L943.80,105.54 L946.97,107.21 L950.14,108.86 L953.32,110.51 L956.49,112.14 L959.66,113.77 L962.83,115.39 L966.01,116.99 L969.18,118.59 L972.35,120.18 L975.52,121.76 L978.69,123.33 L981.87,124.89 L985.04,126.44 L988.21,127.98 L991.38,129.52 L994.56,131.04 L997.73,132.55 L1000.90,134.06 L1004.07,135.55 L1007.24,137.04 L1010.42,138.52 L1013.59,139.98 L1016.76,141.44 L1019.93,142.89 L1023.11,144.33 L1026.28,145.76 L1029.45,147.18 L1032.62,148.59 L1035.79,149.99 L1038.97,151.38 L1042.14,152.76 L1045.31,154.13 L1048.48,155.50 L1051.66,156.85 L1054.83,158.20 L1058.00,159.53 L1061.17,160.86 L1064.34,162.17 L1067.52,163.48" fill="none" stroke="#8a8a8a" stroke-width="2.6" stroke-linejoin="round"/>
<line x1="972.35" y1="85.63" x2="972.35" y2="154.78" stroke="#000" stroke-width="2.8"/>
<line x1="1067.52" y1="128.83" x2="1067.52" y2="198.08" stroke="#000" stroke-width="2.8"/>
<circle cx="877.18" cy="68.42" r="4.9" fill="#8c8c8c"/>
<circle cx="972.35" cy="120.18" r="4.9" fill="#8c8c8c"/>
<circle cx="1067.52" cy="163.48" r="4.9" fill="#8c8c8c"/>
<text transform="translate(890.98,73.92) scale(1,1.09)" font-family="'Liberation Serif', 'Times New Roman', serif" font-size="12.7" font-weight="bold" fill="#000">1</text>
<text transform="translate(985.85,91.13) scale(1,1.09)" font-family="'Liberation Serif', 'Times New Roman', serif" font-size="12.7" fill="#000">-2.58</text>
<text transform="translate(985.85,125.68) scale(1,1.09)" font-family="'Liberation Serif', 'Times New Roman', serif" font-size="12.7" fill="#000">-9.77</text>
<text transform="translate(985.85,160.28) scale(1,1.09)" font-family="'Liberation Serif', 'Times New Roman', serif" font-size="12.7" fill="#000">-16.97</text>
<text transform="translate(1081.02,134.33) scale(1,1.09)" font-family="'Liberation Serif', 'Times New Roman', serif" font-size="12.7" fill="#000">-11.57</text>
<text transform="translate(1081.02,168.98) scale(1,1.09)" font-family="'Liberation Serif', 'Times New Roman', serif" font-size="12.7" fill="#000">-18.78</text>
<text transform="translate(1081.02,203.58) scale(1,1.09)" font-family="'Liberation Serif', 'Times New Roman', serif" font-size="12.7" fill="#000">-25.98</text>
<text transform="translate(1101.50,43.70) scale(1,1.08)" font-family="'Liberation Serif', 'Times New Roman', serif" font-size="12.5" fill="#595959" textLength="30.80" lengthAdjust="spacingAndGlyphs">R<tspan font-size="0.8em" dy="-1.6">²</tspan><tspan dy="1.6"> = 1</tspan></text>
<text transform="translate(782.60,120.20) rotate(-90)" x="0" y="0" font-family="'Liberation Serif', 'Times New Roman', serif" font-size="19" fill="#000" text-anchor="middle">β Value (pmol/L)</text>
<text x="774.10" y="271.50" font-family="'Liberation Sans', Arial, sans-serif" font-size="25.5" font-weight="bold" fill="#000">H</text>
<text x="856.50" y="275.80" font-family="'Liberation Serif', 'Times New Roman', serif" font-size="19.2" fill="#000">No history of DM (HDL-c T2)</text>
<rect x="795.10" y="284.00" width="345.90" height="207.60" fill="#fff" stroke="#d9d9d9" stroke-width="1.3"/>
<line x1="830.10" y1="300.20" x2="1117.90" y2="300.20" stroke="#d9d9d9" stroke-width="1.1"/>
<text transform="translate(819.30,304.80) scale(1,1.15)" font-family="'Liberation Serif', 'Times New Roman', serif" font-size="13.0" fill="#555555" text-anchor="end">5</text>
<line x1="830.10" y1="342.52" x2="1117.90" y2="342.52" stroke="#d9d9d9" stroke-width="1.1"/>
<text transform="translate(819.30,347.12) scale(1,1.15)" font-family="'Liberation Serif', 'Times New Roman', serif" font-size="13.0" fill="#555555" text-anchor="end">0</text>
<line x1="830.10" y1="384.85" x2="1117.90" y2="384.85" stroke="#d9d9d9" stroke-width="1.1"/>
<text transform="translate(819.30,389.45) scale(1,1.15)" font-family="'Liberation Serif', 'Times New Roman', serif" font-size="13.0" fill="#555555" text-anchor="end">-5</text>
<line x1="830.10" y1="427.17" x2="1117.90" y2="427.17" stroke="#d9d9d9" stroke-width="1.1"/>
<text transform="translate(819.30,431.77) scale(1,1.15)" font-family="'Liberation Serif', 'Times New Roman', serif" font-size="13.0" fill="#555555" text-anchor="end">-10</text>
<line x1="830.10" y1="469.50" x2="1117.90" y2="469.50" stroke="#d9d9d9" stroke-width="1.1"/>
<text transform="translate(819.30,474.10) scale(1,1.15)" font-family="'Liberation Serif', 'Times New Roman', serif" font-size="13.0" fill="#555555" text-anchor="end">-15</text>
<path d="M878.07,334.06 L881.26,334.18 L884.46,334.35 L887.66,334.55 L890.86,334.80 L894.06,335.10 L897.25,335.43 L900.45,335.81 L903.65,336.24 L906.85,336.70 L910.04,337.21 L913.24,337.76 L916.44,338.36 L919.64,338.99 L922.84,339.67 L926.03,340.40 L929.23,341.16 L932.43,341.97 L935.63,342.83 L938.82,343.72 L942.02,344.66 L945.22,345.64 L948.42,346.67 L951.62,347.73 L954.81,348.84 L958.01,350.00 L961.21,351.19 L964.41,352.43 L967.60,353.71 L970.80,355.04 L974.00,356.41 L977.20,357.82 L980.40,359.27 L983.59,360.77 L986.79,362.31 L989.99,363.89 L993.19,365.52 L996.38,367.19 L999.58,368.90 L1002.78,370.66 L1005.98,372.45 L1009.18,374.29 L1012.37,376.18 L1015.57,378.11 L1018.77,380.08 L1021.97,382.09 L1025.16,384.14 L1028.36,386.24 L1031.56,388.38 L1034.76,390.57 L1037.96,392.80 L1041.15,395.07 L1044.35,397.38 L1047.55,399.74 L1050.75,402.14 L1053.94,404.58 L1057.14,407.07 L1060.34,409.60 L1063.54,412.17 L1066.74,414.78 L1069.93,417.44" fill="none" stroke="#8a8a8a" stroke-width="2.6" stroke-linejoin="round"/>
<line x1="974.00" y1="316.62" x2="974.00" y2="396.28" stroke="#000" stroke-width="2.8"/>
<line x1="1069.93" y1="375.79" x2="1069.93" y2="459.09" stroke="#000" stroke-width="2.8"/>
<circle cx="878.07" cy="334.06" r="4.9" fill="#8c8c8c"/>
<circle cx="974.00" cy="356.41" r="4.9" fill="#8c8c8c"/>
<circle cx="1069.93" cy="417.44" r="4.9" fill="#8c8c8c"/>
<text transform="translate(891.87,339.56) scale(1,1.09)" font-family="'Liberation Serif', 'Times New Roman', serif" font-size="12.7" fill="#000">1</text>
<text transform="translate(987.50,322.12) scale(1,1.09)" font-family="'Liberation Serif', 'Times New Roman', serif" font-size="12.7" fill="#000">3.06</text>
<text transform="translate(987.50,361.91) scale(1,1.09)" font-family="'Liberation Serif', 'Times New Roman', serif" font-size="12.7" fill="#000">-1.64</text>
<text transform="translate(987.50,401.78) scale(1,1.09)" font-family="'Liberation Serif', 'Times New Roman', serif" font-size="12.7" fill="#000">-6.35</text>
<text transform="translate(1083.43,381.29) scale(1,1.09)" font-family="'Liberation Serif', 'Times New Roman', serif" font-size="12.7" fill="#000">-3.93</text>
<text transform="translate(1083.43,422.94) scale(1,1.09)" font-family="'Liberation Serif', 'Times New Roman', serif" font-size="12.7" fill="#000">-8.85</text>
<text transform="translate(1083.43,464.59) scale(1,1.09)" font-family="'Liberation Serif', 'Times New Roman', serif" font-size="12.7" fill="#000">-13.77</text>
<text transform="translate(1104.30,299.70) scale(1,1.08)" font-family="'Liberation Serif', 'Times New Roman', serif" font-size="12.5" fill="#595959" textLength="30.30" lengthAdjust="spacingAndGlyphs">R<tspan font-size="0.8em" dy="-1.6">²</tspan><tspan dy="1.6"> = 1</tspan></text>
<text transform="translate(782.60,384.70) rotate(-90)" x="0" y="0" font-family="'Liberation Serif', 'Times New Roman', serif" font-size="19" fill="#000" text-anchor="middle">β Value (pmol/L)</text>
<text x="773.80" y="535.50" font-family="'Liberation Sans', Arial, sans-serif" font-size="25.5" font-weight="bold" fill="#000">I</text>
<text x="856.50" y="538.00" font-family="'Liberation Serif', 'Times New Roman', serif" font-size="19.2" fill="#000">No history of DM (HDL-c T3)</text>
<rect x="794.20" y="546.80" width="346.90" height="205.30" fill="#fff" stroke="#d9d9d9" stroke-width="1.3"/>
<line x1="833.20" y1="564.40" x2="1123.40" y2="564.40" stroke="#d9d9d9" stroke-width="1.1"/>
<text transform="translate(822.40,569.00) scale(1,1.15)" font-family="'Liberation Serif', 'Times New Roman', serif" font-size="13.0" fill="#555555" text-anchor="end">2</text>
<line x1="833.20" y1="592.87" x2="1123.40" y2="592.87" stroke="#d9d9d9" stroke-width="1.1"/>
<text transform="translate(822.40,597.47) scale(1,1.15)" font-family="'Liberation Serif', 'Times New Roman', serif" font-size="13.0" fill="#555555" text-anchor="end">0</text>
<line x1="833.20" y1="621.33" x2="1123.40" y2="621.33" stroke="#d9d9d9" stroke-width="1.1"/>
<text transform="translate(822.40,625.93) scale(1,1.15)" font-family="'Liberation Serif', 'Times New Roman', serif" font-size="13.0" fill="#555555" text-anchor="end">-2</text>
<line x1="833.20" y1="649.80" x2="1123.40" y2="649.80" stroke="#d9d9d9" stroke-width="1.1"/>
<text transform="translate(822.40,654.40) scale(1,1.15)" font-family="'Liberation Serif', 'Times New Roman', serif" font-size="13.0" fill="#555555" text-anchor="end">-4</text>
<line x1="833.20" y1="678.27" x2="1123.40" y2="678.27" stroke="#d9d9d9" stroke-width="1.1"/>
<text transform="translate(822.40,682.87) scale(1,1.15)" font-family="'Liberation Serif', 'Times New Roman', serif" font-size="13.0" fill="#555555" text-anchor="end">-6</text>
<line x1="833.20" y1="706.73" x2="1123.40" y2="706.73" stroke="#d9d9d9" stroke-width="1.1"/>
<text transform="translate(822.40,711.33) scale(1,1.15)" font-family="'Liberation Serif', 'Times New Roman', serif" font-size="13.0" fill="#555555" text-anchor="end">-8</text>
<line x1="833.20" y1="735.20" x2="1123.40" y2="735.20" stroke="#d9d9d9" stroke-width="1.1"/>
<text transform="translate(822.40,739.80) scale(1,1.15)" font-family="'Liberation Serif', 'Times New Roman', serif" font-size="13.0" fill="#555555" text-anchor="end">-10</text>
<path d="M881.57,578.63 L884.79,581.23 L888.02,583.78 L891.24,586.29 L894.46,588.76 L897.69,591.18 L900.91,593.57 L904.14,595.91 L907.36,598.21 L910.59,600.47 L913.81,602.69 L917.04,604.86 L920.26,607.00 L923.48,609.09 L926.71,611.14 L929.93,613.15 L933.16,615.12 L936.38,617.04 L939.61,618.93 L942.83,620.77 L946.06,622.57 L949.28,624.33 L952.50,626.04 L955.73,627.72 L958.95,629.35 L962.18,630.94 L965.40,632.49 L968.63,634.00 L971.85,635.46 L975.08,636.89 L978.30,638.27 L981.52,639.61 L984.75,640.91 L987.97,642.17 L991.20,643.38 L994.42,644.56 L997.65,645.69 L1000.87,646.78 L1004.10,647.83 L1007.32,648.83 L1010.54,649.80 L1013.77,650.72 L1016.99,651.60 L1020.22,652.44 L1023.44,653.24 L1026.67,654.00 L1029.89,654.71 L1033.12,655.39 L1036.34,656.02 L1039.56,656.61 L1042.79,657.15 L1046.01,657.66 L1049.24,658.12 L1052.46,658.55 L1055.69,658.93 L1058.91,659.27 L1062.14,659.56 L1065.36,659.82 L1068.58,660.03 L1071.81,660.20 L1075.03,660.33" fill="none" stroke="#8a8a8a" stroke-width="2.6" stroke-linejoin="round"/>
<line x1="978.30" y1="592.30" x2="978.30" y2="684.24" stroke="#000" stroke-width="2.8"/>
<line x1="1075.03" y1="613.22" x2="1075.03" y2="707.30" stroke="#000" stroke-width="2.8"/>
<circle cx="881.57" cy="578.63" r="4.9" fill="#8c8c8c"/>
<circle cx="978.30" cy="638.27" r="4.9" fill="#8c8c8c"/>
<circle cx="1075.03" cy="660.33" r="4.9" fill="#8c8c8c"/>
<text transform="translate(895.37,584.13) scale(1,1.09)" font-family="'Liberation Serif', 'Times New Roman', serif" font-size="12.7" font-weight="bold" fill="#000">1</text>
<text transform="translate(991.80,597.80) scale(1,1.09)" font-family="'Liberation Serif', 'Times New Roman', serif" font-size="12.7" fill="#000">0.04</text>
<text transform="translate(991.80,643.77) scale(1,1.09)" font-family="'Liberation Serif', 'Times New Roman', serif" font-size="12.7" fill="#000">-3.19</text>
<text transform="translate(991.80,689.74) scale(1,1.09)" font-family="'Liberation Serif', 'Times New Roman', serif" font-size="12.7" fill="#000">-6.42</text>
<text transform="translate(1088.53,618.72) scale(1,1.09)" font-family="'Liberation Serif', 'Times New Roman', serif" font-size="12.7" fill="#000">-1.43</text>
<text transform="translate(1088.53,665.83) scale(1,1.09)" font-family="'Liberation Serif', 'Times New Roman', serif" font-size="12.7" fill="#000">-4.74</text>
<text transform="translate(1088.53,712.80) scale(1,1.09)" font-family="'Liberation Serif', 'Times New Roman', serif" font-size="12.7" fill="#000">-8.04</text>
<text transform="translate(1100.40,561.00) scale(1,1.08)" font-family="'Liberation Serif', 'Times New Roman', serif" font-size="12.5" fill="#595959" textLength="30.10" lengthAdjust="spacingAndGlyphs">R<tspan font-size="0.8em" dy="-1.6">²</tspan><tspan dy="1.6"> = 1</tspan></text>
<text transform="translate(782.60,644.40) rotate(-90)" x="0" y="0" font-family="'Liberation Serif', 'Times New Roman', serif" font-size="19" fill="#000" text-anchor="middle">β Value (pmol/L)</text>
<text x="1150.30" y="25.00" font-family="'Liberation Sans', Arial, sans-serif" font-size="25.5" font-weight="bold" fill="#000">J</text>
<text x="1238.80" y="16.50" font-family="'Liberation Serif', 'Times New Roman', serif" font-size="19.2" fill="#000">No history of DM (TG T1)</text>
<rect x="1177.00" y="29.50" width="352.60" height="204.70" fill="#fff" stroke="#d9d9d9" stroke-width="1.3"/>
<line x1="1212.00" y1="42.20" x2="1505.30" y2="42.20" stroke="#d9d9d9" stroke-width="1.1"/>
<text transform="translate(1201.20,46.80) scale(1,1.15)" font-family="'Liberation Serif', 'Times New Roman', serif" font-size="13.0" fill="#555555" text-anchor="end">5</text>
<line x1="1212.00" y1="87.25" x2="1505.30" y2="87.25" stroke="#d9d9d9" stroke-width="1.1"/>
<text transform="translate(1201.20,91.85) scale(1,1.15)" font-family="'Liberation Serif', 'Times New Roman', serif" font-size="13.0" fill="#555555" text-anchor="end">0</text>
<line x1="1212.00" y1="132.30" x2="1505.30" y2="132.30" stroke="#d9d9d9" stroke-width="1.1"/>
<text transform="translate(1201.20,136.90) scale(1,1.15)" font-family="'Liberation Serif', 'Times New Roman', serif" font-size="13.0" fill="#555555" text-anchor="end">-5</text>
<line x1="1212.00" y1="177.35" x2="1505.30" y2="177.35" stroke="#d9d9d9" stroke-width="1.1"/>
<text transform="translate(1201.20,181.95) scale(1,1.15)" font-family="'Liberation Serif', 'Times New Roman', serif" font-size="13.0" fill="#555555" text-anchor="end">-10</text>
<line x1="1212.00" y1="222.40" x2="1505.30" y2="222.40" stroke="#d9d9d9" stroke-width="1.1"/>
<text transform="translate(1201.20,227.00) scale(1,1.15)" font-family="'Liberation Serif', 'Times New Roman', serif" font-size="13.0" fill="#555555" text-anchor="end">-15</text>
<path d="M1260.88,78.24 L1264.14,79.03 L1267.40,79.84 L1270.66,80.66 L1273.92,81.50 L1277.18,82.35 L1280.44,83.22 L1283.70,84.10 L1286.95,85.00 L1290.21,85.92 L1293.47,86.85 L1296.73,87.80 L1299.99,88.76 L1303.25,89.74 L1306.51,90.73 L1309.77,91.74 L1313.03,92.77 L1316.28,93.81 L1319.54,94.87 L1322.80,95.94 L1326.06,97.03 L1329.32,98.14 L1332.58,99.26 L1335.84,100.39 L1339.10,101.54 L1342.36,102.71 L1345.61,103.89 L1348.87,105.09 L1352.13,106.31 L1355.39,107.54 L1358.65,108.78 L1361.91,110.05 L1365.17,111.32 L1368.43,112.62 L1371.69,113.93 L1374.94,115.25 L1378.20,116.59 L1381.46,117.95 L1384.72,119.32 L1387.98,120.71 L1391.24,122.11 L1394.50,123.53 L1397.76,124.96 L1401.02,126.41 L1404.27,127.88 L1407.53,129.36 L1410.79,130.86 L1414.05,132.37 L1417.31,133.90 L1420.57,135.44 L1423.83,137.01 L1427.09,138.58 L1430.35,140.17 L1433.60,141.78 L1436.86,143.40 L1440.12,145.04 L1443.38,146.70 L1446.64,148.37 L1449.90,150.05 L1453.16,151.76 L1456.42,153.47" fill="none" stroke="#8a8a8a" stroke-width="2.6" stroke-linejoin="round"/>
<line x1="1358.65" y1="73.55" x2="1358.65" y2="144.01" stroke="#000" stroke-width="2.8"/>
<line x1="1456.42" y1="118.88" x2="1456.42" y2="187.98" stroke="#000" stroke-width="2.8"/>
<circle cx="1260.88" cy="78.24" r="4.9" fill="#8c8c8c"/>
<circle cx="1358.65" cy="108.78" r="4.9" fill="#8c8c8c"/>
<circle cx="1456.42" cy="153.47" r="4.9" fill="#8c8c8c"/>
<text transform="translate(1274.68,83.74) scale(1,1.09)" font-family="'Liberation Serif', 'Times New Roman', serif" font-size="12.7" fill="#000">1</text>
<text transform="translate(1372.15,79.05) scale(1,1.09)" font-family="'Liberation Serif', 'Times New Roman', serif" font-size="12.7" fill="#000">1.52</text>
<text transform="translate(1372.15,114.28) scale(1,1.09)" font-family="'Liberation Serif', 'Times New Roman', serif" font-size="12.7" fill="#000">-2.39</text>
<text transform="translate(1372.15,149.51) scale(1,1.09)" font-family="'Liberation Serif', 'Times New Roman', serif" font-size="12.7" fill="#000">-6.3</text>
<text transform="translate(1469.92,124.38) scale(1,1.09)" font-family="'Liberation Serif', 'Times New Roman', serif" font-size="12.7" fill="#000">-3.51</text>
<text transform="translate(1469.92,158.97) scale(1,1.09)" font-family="'Liberation Serif', 'Times New Roman', serif" font-size="12.7" fill="#000">-7.35</text>
<text transform="translate(1469.92,193.48) scale(1,1.09)" font-family="'Liberation Serif', 'Times New Roman', serif" font-size="12.7" fill="#000">-11.18</text>
<text transform="translate(1491.10,44.90) scale(1,1.08)" font-family="'Liberation Serif', 'Times New Roman', serif" font-size="12.5" fill="#595959" textLength="30.90" lengthAdjust="spacingAndGlyphs">R<tspan font-size="0.8em" dy="-1.6">²</tspan><tspan dy="1.6"> = 1</tspan></text>
<text transform="translate(1166.00,120.20) rotate(-90)" x="0" y="0" font-family="'Liberation Serif', 'Times New Roman', serif" font-size="19" fill="#000" text-anchor="middle">β Value (pmol/L)</text>
<text x="1150.30" y="271.50" font-family="'Liberation Sans', Arial, sans-serif" font-size="25.5" font-weight="bold" fill="#000">K</text>
<text x="1238.80" y="275.80" font-family="'Liberation Serif', 'Times New Roman', serif" font-size="19.2" fill="#000">No history of DM (TG T2)</text>
<rect x="1177.00" y="287.30" width="353.90" height="205.10" fill="#fff" stroke="#d9d9d9" stroke-width="1.3"/>
<line x1="1212.00" y1="301.40" x2="1508.50" y2="301.40" stroke="#d9d9d9" stroke-width="1.1"/>
<text transform="translate(1199.60,306.55) scale(1,1.15)" font-family="'Liberation Serif', 'Times New Roman', serif" font-size="14.56" fill="#555555" text-anchor="end">5</text>
<line x1="1212.00" y1="343.90" x2="1508.50" y2="343.90" stroke="#d9d9d9" stroke-width="1.1"/>
<text transform="translate(1199.60,349.05) scale(1,1.15)" font-family="'Liberation Serif', 'Times New Roman', serif" font-size="14.56" fill="#555555" text-anchor="end">0</text>
<line x1="1212.00" y1="386.40" x2="1508.50" y2="386.40" stroke="#d9d9d9" stroke-width="1.1"/>
<text transform="translate(1199.60,391.55) scale(1,1.15)" font-family="'Liberation Serif', 'Times New Roman', serif" font-size="14.56" fill="#555555" text-anchor="end">-5</text>
<line x1="1212.00" y1="428.90" x2="1508.50" y2="428.90" stroke="#d9d9d9" stroke-width="1.1"/>
<text transform="translate(1199.60,434.05) scale(1,1.15)" font-family="'Liberation Serif', 'Times New Roman', serif" font-size="14.56" fill="#555555" text-anchor="end">-10</text>
<line x1="1212.00" y1="471.40" x2="1508.50" y2="471.40" stroke="#d9d9d9" stroke-width="1.1"/>
<text transform="translate(1199.60,476.55) scale(1,1.15)" font-family="'Liberation Serif', 'Times New Roman', serif" font-size="14.56" fill="#555555" text-anchor="end">-15</text>
<path d="M1261.42,334.69 L1264.71,336.16 L1268.01,337.64 L1271.30,339.11 L1274.59,340.58 L1277.89,342.06 L1281.18,343.53 L1284.48,345.00 L1287.77,346.48 L1291.07,347.95 L1294.36,349.42 L1297.66,350.90 L1300.95,352.37 L1304.24,353.84 L1307.54,355.32 L1310.83,356.79 L1314.13,358.26 L1317.42,359.74 L1320.72,361.21 L1324.01,362.69 L1327.31,364.16 L1330.60,365.63 L1333.89,367.11 L1337.19,368.58 L1340.48,370.05 L1343.78,371.52 L1347.07,373.00 L1350.37,374.47 L1353.66,375.94 L1356.96,377.42 L1360.25,378.89 L1363.54,380.37 L1366.84,381.84 L1370.13,383.31 L1373.43,384.78 L1376.72,386.26 L1380.02,387.73 L1383.31,389.20 L1386.61,390.68 L1389.90,392.15 L1393.19,393.62 L1396.49,395.10 L1399.78,396.57 L1403.08,398.04 L1406.37,399.52 L1409.67,400.99 L1412.96,402.46 L1416.26,403.94 L1419.55,405.41 L1422.84,406.88 L1426.14,408.36 L1429.43,409.83 L1432.73,411.31 L1436.02,412.78 L1439.32,414.25 L1442.61,415.72 L1445.91,417.20 L1449.20,418.67 L1452.49,420.14 L1455.79,421.62 L1459.08,423.09" fill="none" stroke="#8a8a8a" stroke-width="2.6" stroke-linejoin="round"/>
<line x1="1360.25" y1="338.63" x2="1360.25" y2="416.23" stroke="#000" stroke-width="2.8"/>
<line x1="1459.08" y1="383.93" x2="1459.08" y2="463.66" stroke="#000" stroke-width="2.8"/>
<circle cx="1261.42" cy="335.40" r="4.9" fill="#8c8c8c"/>
<circle cx="1360.25" cy="377.47" r="4.9" fill="#8c8c8c"/>
<circle cx="1459.08" cy="423.80" r="4.9" fill="#8c8c8c"/>
<text transform="translate(1275.22,341.56) scale(1,1.09)" font-family="'Liberation Serif', 'Times New Roman', serif" font-size="14.22" font-weight="bold" fill="#000">1</text>
<text transform="translate(1373.75,344.79) scale(1,1.09)" font-family="'Liberation Serif', 'Times New Roman', serif" font-size="14.22" fill="#000">0.62</text>
<text transform="translate(1373.75,383.63) scale(1,1.09)" font-family="'Liberation Serif', 'Times New Roman', serif" font-size="14.22" fill="#000">-3.95</text>
<text transform="translate(1373.75,422.39) scale(1,1.09)" font-family="'Liberation Serif', 'Times New Roman', serif" font-size="14.22" fill="#000">-8.51</text>
<text transform="translate(1472.58,390.09) scale(1,1.09)" font-family="'Liberation Serif', 'Times New Roman', serif" font-size="14.22" fill="#000">-4.71</text>
<text transform="translate(1472.58,429.96) scale(1,1.09)" font-family="'Liberation Serif', 'Times New Roman', serif" font-size="14.22" fill="#000">-9.4</text>
<text transform="translate(1472.58,469.82) scale(1,1.09)" font-family="'Liberation Serif', 'Times New Roman', serif" font-size="14.22" fill="#000">-14.09</text>
<text transform="translate(1454.10,302.70) scale(1,1.08)" font-family="'Liberation Serif', 'Times New Roman', serif" font-size="14.0" fill="#595959" textLength="68.90" lengthAdjust="spacingAndGlyphs">R<tspan font-size="0.8em" dy="-1.6">²</tspan><tspan dy="1.6"> = 0.9992</tspan></text>
<text transform="translate(1166.00,384.70) rotate(-90)" x="0" y="0" font-family="'Liberation Serif', 'Times New Roman', serif" font-size="19" fill="#000" text-anchor="middle">β Value (pmol/L)</text>
<text x="1151.40" y="535.40" font-family="'Liberation Sans', Arial, sans-serif" font-size="25.5" font-weight="bold" fill="#000">L</text>
<text x="1238.00" y="538.00" font-family="'Liberation Serif', 'Times New Roman', serif" font-size="19.2" fill="#000">No history of DM (TG T3)</text>
<rect x="1177.50" y="547.80" width="352.00" height="204.30" fill="#fff" stroke="#d9d9d9" stroke-width="1.3"/>
<line x1="1216.10" y1="565.20" x2="1511.60" y2="565.20" stroke="#d9d9d9" stroke-width="1.1"/>
<text transform="translate(1205.30,569.80) scale(1,1.15)" font-family="'Liberation Serif', 'Times New Roman', serif" font-size="13.0" fill="#555555" text-anchor="end">5</text>
<line x1="1216.10" y1="599.20" x2="1511.60" y2="599.20" stroke="#d9d9d9" stroke-width="1.1"/>
<text transform="translate(1205.30,603.80) scale(1,1.15)" font-family="'Liberation Serif', 'Times New Roman', serif" font-size="13.0" fill="#555555" text-anchor="end">0</text>
<line x1="1216.10" y1="633.20" x2="1511.60" y2="633.20" stroke="#d9d9d9" stroke-width="1.1"/>
<text transform="translate(1205.30,637.80) scale(1,1.15)" font-family="'Liberation Serif', 'Times New Roman', serif" font-size="13.0" fill="#555555" text-anchor="end">-5</text>
<line x1="1216.10" y1="667.20" x2="1511.60" y2="667.20" stroke="#d9d9d9" stroke-width="1.1"/>
<text transform="translate(1205.30,671.80) scale(1,1.15)" font-family="'Liberation Serif', 'Times New Roman', serif" font-size="13.0" fill="#555555" text-anchor="end">-10</text>
<line x1="1216.10" y1="701.20" x2="1511.60" y2="701.20" stroke="#d9d9d9" stroke-width="1.1"/>
<text transform="translate(1205.30,705.80) scale(1,1.15)" font-family="'Liberation Serif', 'Times New Roman', serif" font-size="13.0" fill="#555555" text-anchor="end">-15</text>
<line x1="1216.10" y1="735.20" x2="1511.60" y2="735.20" stroke="#d9d9d9" stroke-width="1.1"/>
<text transform="translate(1205.30,739.80) scale(1,1.15)" font-family="'Liberation Serif', 'Times New Roman', serif" font-size="13.0" fill="#555555" text-anchor="end">-20</text>
<path d="M1265.35,592.40 L1268.63,593.73 L1271.92,595.07 L1275.20,596.40 L1278.48,597.73 L1281.77,599.06 L1285.05,600.39 L1288.33,601.72 L1291.62,603.05 L1294.90,604.38 L1298.18,605.71 L1301.47,607.03 L1304.75,608.36 L1308.03,609.68 L1311.32,611.01 L1314.60,612.33 L1317.88,613.66 L1321.17,614.98 L1324.45,616.30 L1327.73,617.62 L1331.02,618.94 L1334.30,620.26 L1337.58,621.58 L1340.87,622.90 L1344.15,624.22 L1347.43,625.54 L1350.72,626.85 L1354.00,628.17 L1357.28,629.48 L1360.57,630.80 L1363.85,632.11 L1367.13,633.43 L1370.42,634.74 L1373.70,636.05 L1376.98,637.36 L1380.27,638.67 L1383.55,639.98 L1386.83,641.29 L1390.12,642.60 L1393.40,643.91 L1396.68,645.21 L1399.97,646.52 L1403.25,647.83 L1406.53,649.13 L1409.82,650.43 L1413.10,651.74 L1416.38,653.04 L1419.67,654.34 L1422.95,655.65 L1426.23,656.95 L1429.52,658.25 L1432.80,659.55 L1436.08,660.85 L1439.37,662.14 L1442.65,663.44 L1445.93,664.74 L1449.22,666.03 L1452.50,667.33 L1455.78,668.62 L1459.07,669.92 L1462.35,671.21" fill="none" stroke="#8a8a8a" stroke-width="2.6" stroke-linejoin="round"/>
<line x1="1363.85" y1="589.00" x2="1363.85" y2="675.16" stroke="#000" stroke-width="2.8"/>
<line x1="1462.35" y1="625.11" x2="1462.35" y2="717.38" stroke="#000" stroke-width="2.8"/>
<circle cx="1265.35" cy="592.40" r="4.9" fill="#8c8c8c"/>
<circle cx="1363.85" cy="632.11" r="4.9" fill="#8c8c8c"/>
<circle cx="1462.35" cy="671.21" r="4.9" fill="#8c8c8c"/>
<text transform="translate(1279.15,597.90) scale(1,1.09)" font-family="'Liberation Serif', 'Times New Roman', serif" font-size="12.7" font-weight="bold" fill="#000">1</text>
<text transform="translate(1377.35,594.50) scale(1,1.09)" font-family="'Liberation Serif', 'Times New Roman', serif" font-size="12.7" fill="#000">1.5</text>
<text transform="translate(1377.35,637.61) scale(1,1.09)" font-family="'Liberation Serif', 'Times New Roman', serif" font-size="12.7" fill="#000">-4.84</text>
<text transform="translate(1377.35,680.66) scale(1,1.09)" font-family="'Liberation Serif', 'Times New Roman', serif" font-size="12.7" fill="#000">-11.17</text>
<text transform="translate(1475.85,630.61) scale(1,1.09)" font-family="'Liberation Serif', 'Times New Roman', serif" font-size="12.7" fill="#000">-3.81</text>
<text transform="translate(1475.85,676.71) scale(1,1.09)" font-family="'Liberation Serif', 'Times New Roman', serif" font-size="12.7" fill="#000">-10.59</text>
<text transform="translate(1475.85,722.88) scale(1,1.09)" font-family="'Liberation Serif', 'Times New Roman', serif" font-size="12.7" fill="#000">-17.38</text>
<text transform="translate(1491.70,562.40) scale(1,1.08)" font-family="'Liberation Serif', 'Times New Roman', serif" font-size="12.5" fill="#595959" textLength="30.50" lengthAdjust="spacingAndGlyphs">R<tspan font-size="0.8em" dy="-1.6">²</tspan><tspan dy="1.6"> = 1</tspan></text>
<text transform="translate(1166.00,644.40) rotate(-90)" x="0" y="0" font-family="'Liberation Serif', 'Times New Roman', serif" font-size="19" fill="#000" text-anchor="middle">β Value (pmol/L)</text>
<text x="2.80" y="772.80" font-family="'Liberation Serif', 'Times New Roman', serif" font-size="19.2" fill="#000">Physical</text>
<text x="2.80" y="795.70" font-family="'Liberation Serif', 'Times New Roman', serif" font-size="19.2" fill="#000">activity</text>
<text x="97.40" y="772.80" font-family="'Liberation Serif', 'Times New Roman', serif" font-size="19.2" fill="#000">Low</text>
<text x="180.60" y="772.80" font-family="'Liberation Serif', 'Times New Roman', serif" font-size="19.2" fill="#000">Moderate</text>
<text x="298.90" y="772.80" font-family="'Liberation Serif', 'Times New Roman', serif" font-size="19.2" fill="#000">High</text>
<text x="388.90" y="772.80" font-family="'Liberation Serif', 'Times New Roman', serif" font-size="19.2" fill="#000">Physical</text>
<text x="388.90" y="795.70" font-family="'Liberation Serif', 'Times New Roman', serif" font-size="19.2" fill="#000">activity</text>
<text x="482.90" y="772.80" font-family="'Liberation Serif', 'Times New Roman', serif" font-size="19.2" fill="#000">Low</text>
<text x="566.40" y="772.80" font-family="'Liberation Serif', 'Times New Roman', serif" font-size="19.2" fill="#000">Moderate</text>
<text x="684.20" y="772.80" font-family="'Liberation Serif', 'Times New Roman', serif" font-size="19.2" fill="#000">High</text>
<text x="771.40" y="772.80" font-family="'Liberation Serif', 'Times New Roman', serif" font-size="19.2" fill="#000">Physical</text>
<text x="771.40" y="795.70" font-family="'Liberation Serif', 'Times New Roman', serif" font-size="19.2" fill="#000">activity</text>
<text x="865.50" y="772.80" font-family="'Liberation Serif', 'Times New Roman', serif" font-size="19.2" fill="#000">Low</text>
<text x="948.40" y="772.80" font-family="'Liberation Serif', 'Times New Roman', serif" font-size="19.2" fill="#000">Moderate</text>
<text x="1067.90" y="772.80" font-family="'Liberation Serif', 'Times New Roman', serif" font-size="19.2" fill="#000">High</text>
<text x="1163.00" y="772.80" font-family="'Liberation Serif', 'Times New Roman', serif" font-size="19.2" fill="#000">Physical</text>
<text x="1163.00" y="795.70" font-family="'Liberation Serif', 'Times New Roman', serif" font-size="19.2" fill="#000">activity</text>
<text x="1257.90" y="772.80" font-family="'Liberation Serif', 'Times New Roman', serif" font-size="19.2" fill="#000">Low</text>
<text x="1341.20" y="772.80" font-family="'Liberation Serif', 'Times New Roman', serif" font-size="19.2" fill="#000">Moderate</text>
<text x="1459.70" y="772.80" font-family="'Liberation Serif', 'Times New Roman', serif" font-size="19.2" fill="#000">High</text>
</svg>
</body></html>
